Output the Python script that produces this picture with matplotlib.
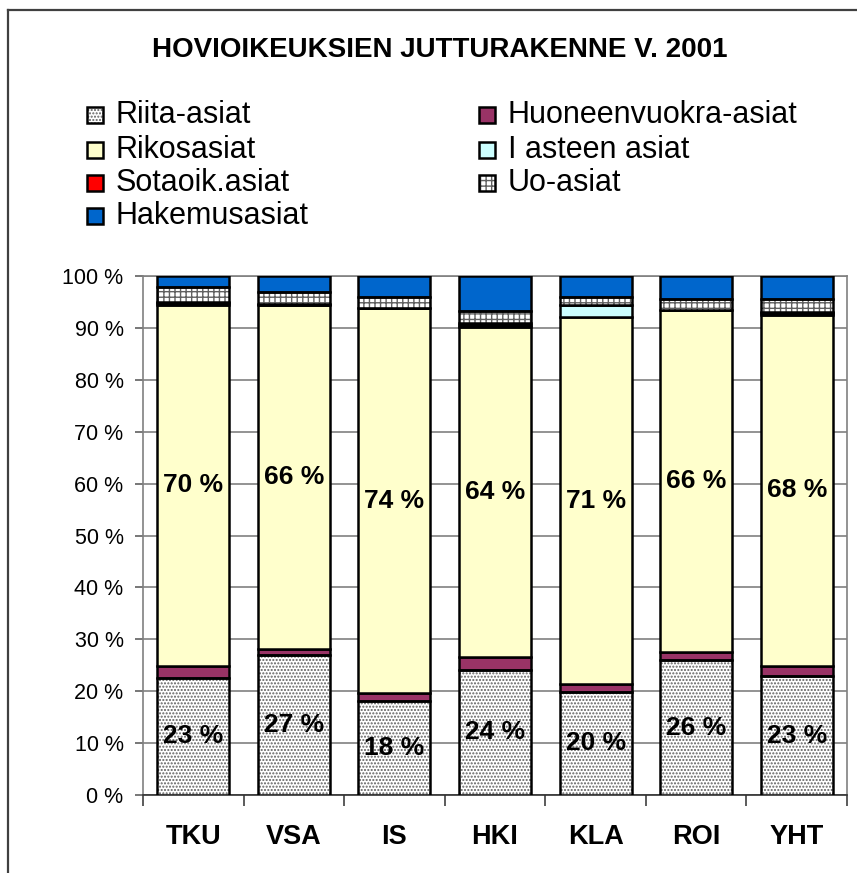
import matplotlib
matplotlib.use("Agg")
import matplotlib.pyplot as plt
from matplotlib.patches import Rectangle
from matplotlib.lines import Line2D
import numpy as np

plt.rcParams['font.family'] = ['Liberation Sans', 'DejaVu Sans']

categories = ["TKU", "VSA", "IS", "HKI", "KLA", "ROI", "YHT"]
riita = [22.6, 27.0, 18.2, 24.1, 19.9, 26.0, 22.9]
huoneenvuokra = [2.3, 1.1, 1.4, 2.4, 1.4, 1.5, 2.0]
rikos = [69.6, 66.3, 74.2, 63.7, 70.8, 65.9, 67.6]
i_asteen = [0.3, 0.1, 0.0, 0.4, 2.4, 0.0, 0.3]
sotaoik = [0.2, 0.1, 0.1, 0.4, 0.0, 0.1, 0.3]
uo = [2.8, 2.4, 2.0, 2.2, 1.4, 2.0, 2.4]
hakemus = [2.2, 3.0, 4.1, 6.8, 4.1, 4.5, 4.5]

series_names = ["Riita-asiat", "Huoneenvuokra-asiat", "Rikosasiat", "I asteen asiat",
                "Sotaoik.asiat", "Uo-asiat", "Hakemusasiat"]
series_values = [riita, huoneenvuokra, rikos, i_asteen, sotaoik, uo, hakemus]
series_face = ["white", "#993366", "#FFFFCC", "#CCFFFF", "#FF0000", "white", "#0066CC"]
series_hatch = [".....", None, None, None, None, "+++", None]
labelled = {"Riita-asiat", "Rikosasiat"}
title = "HOVIOIKEUKSIEN JUTTURAKENNE V. 2001"
yticks = list(range(0, 101, 10))

W, H = 857, 873
fig = plt.figure(figsize=(W / 100, H / 100), dpi=100)

def fx(px):
    return px / W

def fy(py):
    return 1 - py / H

# outer chart frame
fig.add_artist(Line2D([fx(8), fx(8)], [fy(10), 0], color="#404040", lw=1.6))
fig.add_artist(Line2D([fx(8), 1], [fy(10), fy(10)], color="#404040", lw=1.6))

ax = fig.add_axes([fx(143), fy(795), fx(847 - 143), (795 - 276) / H])

x = np.arange(len(categories))
width = 0.716
bottom = np.zeros(len(categories))
for name, vals, fc, hatch in zip(series_names, series_values, series_face, series_hatch):
    vals = np.array(vals, dtype=float)
    if hatch:
        ax.bar(x, vals, width, bottom=bottom, color=fc, edgecolor="#606060",
               hatch=hatch, linewidth=0, zorder=3)
        ax.bar(x, vals, width, bottom=bottom, facecolor="none", edgecolor="black",
               linewidth=1.8, zorder=4)
    else:
        ax.bar(x, vals, width, bottom=bottom, color=fc, edgecolor="black",
               linewidth=1.8, zorder=3)
    if name in labelled:
        for xi, b, v in zip(x, bottom, vals):
            ax.text(xi, b + v / 2, f"{round(v):d} %", ha="center", va="center",
                    fontsize=19, fontweight="bold", zorder=5)
    bottom += vals

ax.set_xlim(-0.5, len(categories) - 0.5)
ax.set_ylim(0, 100)
ax.set_yticks(yticks)
ax.set_yticklabels([f"{t} %" for t in yticks], fontsize=15.5)
ax.yaxis.grid(True, color="#808080", linewidth=1.2, zorder=0)
ax.set_axisbelow(True)
ax.tick_params(axis="y", length=6, width=1.2, color="#606060", pad=8)

ax.set_xticks(np.arange(len(categories) + 1) - 0.5)
ax.set_xticklabels([])
ax.tick_params(axis="x", which="major", length=8, width=1.2, color="#404040")
ax.set_xticks(x, minor=True)
ax.set_xticklabels(categories, minor=True, fontsize=19.5, fontweight="bold")
ax.tick_params(axis="x", which="minor", length=0, pad=21)

for side in ["left", "right", "top"]:
    ax.spines[side].set_color("#808080")
    ax.spines[side].set_linewidth(1.2)
ax.spines["bottom"].set_color("#303030")
ax.spines["bottom"].set_linewidth(1.2)

fig.text(fx(440), fy(50), title, ha="center", va="center", fontsize=20, fontweight="bold")

# legend (column-major layout like the original)
leg_pos = {
    "Riita-asiat": (87, 115), "Rikosasiat": (87, 150), "Sotaoik.asiat": (87, 183),
    "Hakemusasiat": (87, 216), "Huoneenvuokra-asiat": (479, 115),
    "I asteen asiat": (479, 150), "Uo-asiat": (479, 183),
}
for name, fc, hatch in zip(series_names, series_face, series_hatch):
    px, py = leg_pos[name]
    if hatch:
        fig.add_artist(Rectangle((fx(px), fy(py + 8)), fx(16), 16 / H, transform=fig.transFigure,
                                 facecolor=fc, edgecolor="#606060", hatch=hatch, linewidth=0))
        fig.add_artist(Rectangle((fx(px), fy(py + 8)), fx(16), 16 / H, transform=fig.transFigure,
                                 facecolor="none", edgecolor="black", linewidth=1.8))
    else:
        fig.add_artist(Rectangle((fx(px), fy(py + 8)), fx(16), 16 / H, transform=fig.transFigure,
                                 facecolor=fc, edgecolor="black", linewidth=1.8))
    fig.text(fx(px + 29), fy(py), name, ha="left", va="center", fontsize=22)

fig.savefig("out.png", dpi=100)
